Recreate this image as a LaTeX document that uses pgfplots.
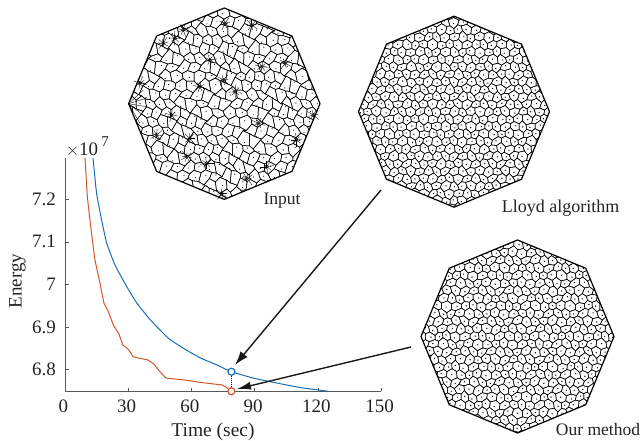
\documentclass[border=0pt]{standalone}
\usepackage{pgfplots}
\pgfplotsset{compat=1.18}
\usepackage{fontspec}
\setmainfont{Liberation Serif}
\usetikzlibrary{arrows.meta}
\definecolor{cblue}{RGB}{20,110,185}
\definecolor{cred}{RGB}{214,84,40}
\definecolor{txt}{RGB}{35,35,35}
\newcommand\warp[2]{%
  \pgfmathsetmacro\wx{#1+\MA*sin(\MF*(#1)+1.7*\MF*(#2)+\MP)+0.6*\MA*sin(2.3*\MF*(#2)-\MF*(#1)+40)}%
  \pgfmathsetmacro\wy{#2+\MA*cos(1.3*\MF*(#1)-\MF*(#2)+\MP)+0.6*\MA*sin(2.1*\MF*(#1)+0.7*\MF*(#2))}%
}
% cx cy R d amplitude frequency phase dot radius
\newcommand\octmesh[8]{%
 \begin{scope}[shift={(#1pt,#2pt)}]
  \def\MA{#5}\def\MF{#6}\def\MP{#7}%
  \begin{scope}
   \clip (0,#3pt)--(45:1pt*#3)--(1pt*#3,0)--(-45:1pt*#3)--(0,-1pt*#3)--(-135:1pt*#3)--(-1pt*#3,0)--(135:1pt*#3)--cycle;
   \pgfsetlinewidth{0.5pt}%
   \pgfmathsetmacro\rv{#4/sqrt(3)}%
   \pgfmathtruncatemacro\NJ{(#3)/(0.866*#4)+1}%
   \pgfmathtruncatemacro\NI{(#3)/(#4)+1}%
   \foreach \j in {-\NJ,...,\NJ}{%
    \foreach \i in {-\NI,...,\NI}{%
     \pgfmathsetmacro\cxx{(\i+0.5*mod(abs(\j),2))*#4}%
     \pgfmathsetmacro\cyy{\j*0.866*#4}%
     \pgfmathtruncatemacro\inside{((\cxx/100)*(\cxx/100)+(\cyy/100)*(\cyy/100)<((#3+#4)/100)*((#3+#4)/100))?1:0}%
     \ifnum\inside=1
      \foreach \k in {0,...,5}{%
       \pgfmathsetmacro\vxa{\cxx+\rv*cos(30+60*\k)}%
       \pgfmathsetmacro\vya{\cyy+\rv*sin(30+60*\k)}%
       \pgfmathsetmacro\vxb{\cxx+\rv*cos(90+60*\k)}%
       \pgfmathsetmacro\vyb{\cyy+\rv*sin(90+60*\k)}%
       \warp{\vxa}{\vya}\edef\pa{\wx}\edef\pb{\wy}%
       \warp{\vxb}{\vyb}%
       \pgfpathmoveto{\pgfpoint{\pa pt}{\pb pt}}%
       \pgfpathlineto{\pgfpoint{\wx pt}{\wy pt}}%
       \pgfusepath{stroke}%
      }%
      \warp{\cxx}{\cyy}%
      \pgfpathcircle{\pgfpoint{\wx pt}{\wy pt}}{#8pt}%
      \pgfusepath{fill}%
     \fi
    }%
   }%
  \end{scope}
  \draw[line width=1.2pt,line join=miter] (0,#3pt)--(45:1pt*#3)--(1pt*#3,0)--(-45:1pt*#3)--(0,-1pt*#3)--(-135:1pt*#3)--(-1pt*#3,0)--(135:1pt*#3)--cycle;
 \end{scope}%
}
\begin{document}
\begin{tikzpicture}
\path[use as bounding box] (0,0) rectangle (642pt,441pt);
\begin{axis}[
  at={(65pt,49.7pt)},anchor=south west,scale only axis,
  width=316pt,height=233.3pt,
  xmin=0,xmax=150,ymin=6.749,ymax=7.297,
  axis lines=left,axis line style={-,line width=0.7pt,color=black!65},
  tick style={color=black!65,line width=0.6pt},
  tick align=inside,major tick length=3.5pt,
  xtick={0,30,60,90,120,150},xticklabels={0,30,60,90,120,150},
  ytick={6.8,6.9,7,7.1,7.2},yticklabels={6.8,6.9,7,7.1,7.2},
  tick label style={font=\fontsize{19}{21}\selectfont,text=txt},
  xticklabel style={yshift=-5pt,xshift=-1.5pt},yticklabel style={xshift=-5.5pt},
  clip=false]
\addplot[cblue,line width=1pt,smooth,tension=0.3] coordinates {
(13.3,7.297)(15,7.214)(17.4,7.151)(19.8,7.097)(23.7,7.046)(29.3,6.995)(34,6.957)(40.3,6.918)(49,6.874)(56.2,6.85)(64,6.828)(72,6.811)(79,6.795)(89.4,6.78)(98.9,6.77)(111.5,6.758)(125,6.749)};
\addplot[cred,line width=1pt] coordinates {
(9.5,7.297)(10.6,7.206)(12.2,7.136)(14.2,7.058)(16.6,7.003)(18.5,6.956)(20.6,6.936)(22.9,6.905)(25.6,6.884)(27.4,6.858)(30,6.848)(32.4,6.83)(34.8,6.827)(39.2,6.823)(42.2,6.813)(45.1,6.795)(47.9,6.78)(56.2,6.776)(64,6.77)(74.4,6.764)(76.7,6.758)(79,6.749)};
\addplot[black,densely dotted,line width=1.1pt] coordinates {(79,6.795)(79,6.749)};
\addplot[only marks,mark=*,mark size=3.5pt,mark options={fill=white,draw=cblue,line width=1.2pt}] coordinates {(79,6.795)};
\addplot[only marks,mark=*,mark size=3.5pt,mark options={fill=white,draw=cred,line width=1.2pt}] coordinates {(79,6.749)};
\end{axis}
\node[text=txt,font=\fontsize{19.5}{22}\selectfont] at (213pt,9.5pt) {Time (sec)};
\node[text=txt,rotate=90,font=\fontsize{19}{22}\selectfont] at (17.5pt,160pt) {Energy};
\node[text=txt,font=\fontsize{19}{22}\selectfont] at (82pt,291pt) {$\times$10};
\node[text=txt,font=\fontsize{15}{18}\selectfont] at (105pt,299pt) {7};
% Input mesh
\octmesh{224.3}{337.3}{95.7}{10.5}{2.2}{37}{20}{0.6}
\begin{scope}[shift={(224.3pt,337.3pt)},line width=0.35pt]
 \foreach \zx/\zy in {315/70,395/75,165/115,130/130,270/180,425/200,495/190,310/240,345/275,240/260,415/370,530/420,155/345,110/405,200/470,260/490,440/500,380/535,305/580,210/415,580/345,60/250,190/90}{
  \pgfmathsetmacro\ax{(\zx-313)/3}\pgfmathsetmacro\ay{-(\zy-311)/3}
  \foreach \an/\ln in {10/6,55/5,100/7,150/5,200/6,245/5,290/7,335/5}{
   \draw (\ax pt,\ay pt) -- ++(\an+\zx:\ln pt);
  }
  \draw (\ax pt,\ay pt) circle (1.8pt);
 }
 \foreach \zx/\zy in {70/270,78/295,78/320,75/350,60/370}{
  \pgfmathsetmacro\ax{(\zx-313)/3}\pgfmathsetmacro\ay{-(\zy-311)/3}
  \draw (-95.7pt,0pt) -- (\ax pt,\ay pt);
 }
\end{scope}
% Lloyd mesh
\octmesh{454}{329.3}{95.5}{8.6}{1.0}{11}{60}{0.7}
% Our method mesh
\octmesh{517.5}{104.5}{96.5}{8.8}{1.1}{9}{130}{0.7}
\node[text=txt,font=\fontsize{17.5}{20}\selectfont] at (282pt,240pt) {Input};
\node[text=txt,font=\fontsize{18}{20}\selectfont] at (560.5pt,232.5pt) {Lloyd algorithm};
\node[text=txt,font=\fontsize{17.5}{20}\selectfont] at (598pt,11pt) {Our method};
\draw[black!90,line width=1.4pt,-{Latex[length=14pt,width=9pt]}] (381pt,251pt) -- (235pt,76pt);
\draw[black!90,line width=1.4pt,-{Latex[length=14pt,width=8pt]}] (411pt,94pt) -- (237pt,52pt);
\end{tikzpicture}
\end{document}
